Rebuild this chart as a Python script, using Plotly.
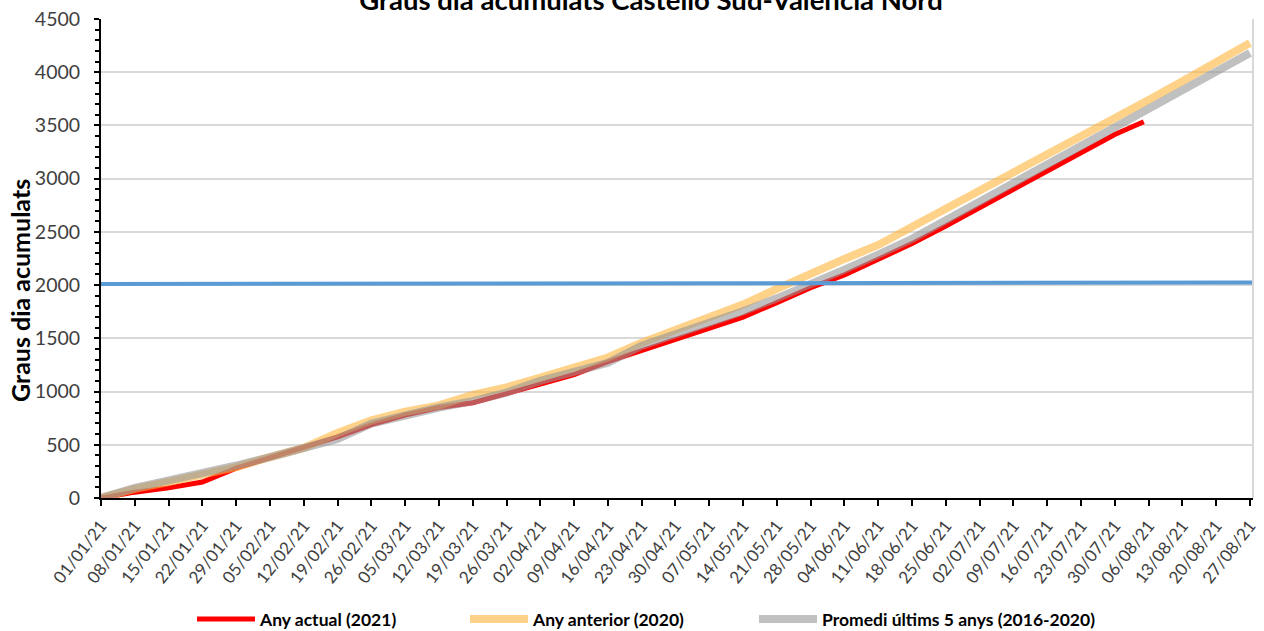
import pandas as pd
import plotly.graph_objects as go

# weekly dates (day offsets from 01/01/21)
days = list(range(0, 239, 7))  # 0..238
dates = [pd.Timestamp("2021-01-01") + pd.Timedelta(days=d) for d in days]

any_actual = [0, 55, 95, 150, 280, 380, 470, 575, 690, 780, 850, 895, 980, 1070,
              1160, 1280, 1385, 1490, 1590, 1700, 1835, 1975, 2096, 2240, 2390,
              2556, 2728, 2900, 3070, 3240, 3415]
any_actual_dates = dates[:len(any_actual)] + [pd.Timestamp("2021-08-05")]
any_actual = any_actual + [3535]

any_anterior = [0, 85, 150, 215, 290, 385, 470, 610, 730, 810, 870, 970, 1040, 1130,
                1230, 1320, 1460, 1580, 1704, 1817, 1965, 2112, 2246, 2377, 2545,
                2713, 2882, 3050, 3220, 3390, 3560, 3740, 3915, 4095, 4275]

promedi = [0, 95, 165, 230, 305, 385, 465, 555, 700, 780, 850, 910, 990, 1100,
           1180, 1270, 1430, 1534, 1641, 1755, 1876, 2002, 2145, 2287, 2435,
           2610, 2784, 2957, 3130, 3305, 3480, 3650, 3830, 4005, 4180]

llindar_dates = [pd.Timestamp("2021-01-01"), pd.Timestamp("2021-08-27 15:00")]
llindar = [2010, 2025]

FONT = "Lato, Carlito, Calibri, sans-serif"
W, H = 1264, 631

fig = go.Figure()
fig.add_trace(go.Scatter(x=any_actual_dates, y=any_actual, mode="lines",
                         name="Any actual (2021)", legend="legend",
                         line=dict(color="#FF0000", width=5)))
fig.add_trace(go.Scatter(x=dates, y=any_anterior, mode="lines",
                         name="Any anterior (2020)", legend="legend2",
                         line=dict(color="rgba(255,180,60,0.6)", width=8)))
fig.add_trace(go.Scatter(x=dates, y=promedi, mode="lines",
                         name="Promedi últims 5 anys (2016-2020)", legend="legend3",
                         line=dict(color="rgba(150,150,150,0.6)", width=8)))
fig.add_trace(go.Scatter(x=llindar_dates, y=llindar, mode="lines",
                         showlegend=False,
                         line=dict(color="#5B9BD5", width=4)))


def leg(xpx):
    return dict(orientation="h", xref="container", yref="container",
                x=xpx / W, xanchor="left", y=1 - 619 / H, yanchor="middle",
                font=dict(size=17.5, color="black", family=FONT, weight="bold"),
                itemwidth=58, bgcolor="rgba(0,0,0,0)", borderwidth=0)


fig.update_layout(
    width=W, height=H,
    margin=dict(l=101, r=11, t=19, b=133),
    paper_bgcolor="white", plot_bgcolor="white",
    font=dict(family=FONT, color="#404040"),
    title=dict(text="<b>Graus dia acumulats Castelló Sud-València Nord</b>",
               x=651 / W, xanchor="center", y=1.0, yref="container", yanchor="middle",
               font=dict(size=27.5, color="black", family=FONT)),
    showlegend=True,
    legend=leg(192),
    legend2=leg(465),
    legend3=leg(754),
    shapes=[dict(type="line", xref="paper", yref="paper", x0=1, x1=1, y0=0, y1=1,
                 line=dict(color="#D9D9D9", width=2))],
    annotations=[dict(text="<b>Graus dia acumulats</b>", textangle=-90,
                      xref="paper", yref="paper",
                      x=(20 - 101) / 1152, y=(498 - 291) / 479,
                      xanchor="center", yanchor="middle", showarrow=False,
                      font=dict(size=25, color="black", family=FONT))],
)

fig.update_xaxes(
    type="date", automargin=False,
    range=["2021-01-01", "2021-08-27 15:00"],
    tick0="2021-01-01", dtick=7 * 86400000, tickformat="%d/%m/%y",
    tickangle=-52, ticks="outside", ticklen=6, tickwidth=2, tickcolor="black",
    ticklabelstandoff=3,
    showline=True, linecolor="black", linewidth=2,
    showgrid=False, zeroline=False,
    tickfont=dict(size=17, color="#404040", family=FONT),
)
fig.update_yaxes(
    automargin=False,
    range=[0, 4500], dtick=500, tick0=0,
    ticks="outside", ticklen=5, tickwidth=2, tickcolor="black",
    ticklabelstandoff=10,
    minor=dict(dtick=100, ticks="outside", ticklen=4, tickcolor="black", showgrid=False),
    showline=True, linecolor="black", linewidth=2,
    showgrid=True, gridcolor="#D9D9D9", gridwidth=2,
    zeroline=False,
    tickfont=dict(size=19.5, color="#404040", family=FONT),
)

fig.write_html("out.html", config={"displayModeBar": False},
               post_script="document.body.style.margin='0';document.body.style.overflow='hidden';")
